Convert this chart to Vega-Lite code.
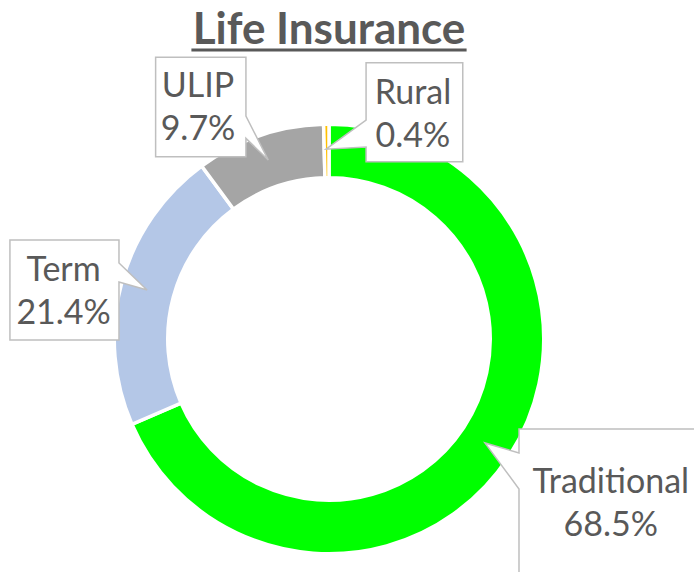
{
  "$schema": "https://vega.github.io/schema/vega-lite/v6.json",
  "width": 694,
  "height": 572,
  "autosize": "none",
  "padding": 0,
  "background": "white",
  "config": {"view": {"stroke": null}},
  "datasets": {
    "shares": [
      {"category": "Traditional", "share": 0.685},
      {"category": "Term", "share": 0.214},
      {"category": "ULIP", "share": 0.097},
      {"category": "Rural", "share": 0.004}
    ],
    "callouts": [
      {"category": "ULIP", "i": 0, "x": -81.4, "y": 132.3},
      {"category": "ULIP", "i": 1, "x": -39.0, "y": 132.3},
      {"category": "ULIP", "i": 2, "x": -39.0, "y": 104.7},
      {"category": "ULIP", "i": 3, "x": -28.5, "y": 84.0},
      {"category": "ULIP", "i": 4, "x": -39.0, "y": 94.2},
      {"category": "ULIP", "i": 5, "x": -39.0, "y": 85.6},
      {"category": "ULIP", "i": 6, "x": -81.4, "y": 85.6},
      {"category": "Rural", "i": 0, "x": 17.4, "y": 129.7},
      {"category": "Rural", "i": 1, "x": 62.8, "y": 129.7},
      {"category": "Rural", "i": 2, "x": 62.8, "y": 83.2},
      {"category": "Rural", "i": 3, "x": 17.4, "y": 83.2},
      {"category": "Rural", "i": 4, "x": 17.4, "y": 90.1},
      {"category": "Rural", "i": 5, "x": -1.4, "y": 89.1},
      {"category": "Rural", "i": 6, "x": 17.4, "y": 102.8},
      {"category": "Term", "i": 0, "x": -149.8, "y": 46.5},
      {"category": "Term", "i": 1, "x": -98.6, "y": 46.5},
      {"category": "Term", "i": 2, "x": -98.6, "y": 35.7},
      {"category": "Term", "i": 3, "x": -85.4, "y": 23.0},
      {"category": "Term", "i": 4, "x": -98.6, "y": 26.8},
      {"category": "Term", "i": 5, "x": -98.6, "y": -0.5},
      {"category": "Term", "i": 6, "x": -149.8, "y": -0.5},
      {"category": "Traditional", "i": 0, "x": 89.2, "y": -42.3},
      {"category": "Traditional", "i": 1, "x": 183.6, "y": -42.3},
      {"category": "Traditional", "i": 2, "x": 183.6, "y": -122.5},
      {"category": "Traditional", "i": 3, "x": 89.2, "y": -122.5},
      {"category": "Traditional", "i": 4, "x": 89.2, "y": -70.4},
      {"category": "Traditional", "i": 5, "x": 73.2, "y": -48.8},
      {"category": "Traditional", "i": 6, "x": 89.2, "y": -53.5}
    ],
    "labels": [
      {"category": "ULIP", "x": -61.5, "y": 108.3},
      {"category": "Rural", "x": 39.4, "y": 104.8},
      {"category": "Term", "x": -124.6, "y": 21.8},
      {"category": "Traditional", "x": 132.3, "y": -77.7}
    ],
    "title": [
      {"text": "Life Insurance", "x": 0, "y": 138.3, "ux1": -64.6, "ux2": 64.6, "uy": 135.7}
    ]
  },
  "layer": [
    {
      "data": {"name": "shares"},
      "mark": {"type": "arc", "outerRadius": 214.75, "innerRadius": 161.25, "stroke": "white", "strokeWidth": 3.5},
      "encoding": {
        "x": {"datum": 0, "type": "quantitative", "scale": {"domain": [-154.46, 171.36], "nice": false, "zero": false}, "axis": null},
        "y": {"datum": 0, "type": "quantitative", "scale": {"domain": [-109.39, 159.15], "nice": false, "zero": false}, "axis": null},
        "theta": {"field": "share", "type": "quantitative", "stack": true},
        "order": {"field": "share", "sort": "descending"},
        "color": {
          "field": "category", "type": "nominal",
          "scale": {"domain": ["Traditional", "Term", "ULIP", "Rural"], "range": ["#00FF00", "#B4C7E7", "#A5A5A5", "#FFC000"]},
          "legend": null
        }
      }
    },
    {
      "data": {"name": "callouts"},
      "mark": {"type": "line", "interpolate": "linear-closed", "fill": "white", "stroke": "#BFBFBF", "strokeWidth": 1.5, "strokeJoin": "miter"},
      "encoding": {
        "x": {"field": "x", "type": "quantitative", "axis": null},
        "y": {"field": "y", "type": "quantitative", "axis": null},
        "detail": {"field": "category"},
        "order": {"field": "i", "type": "quantitative"}
      }
    },
    {
      "data": {"name": "labels"},
      "mark": {"type": "text", "font": "Lato", "fontSize": 34, "color": "#595959", "dy": -21.5, "baseline": "middle", "align": "center"},
      "encoding": {
        "x": {"field": "x", "type": "quantitative", "axis": null},
        "y": {"field": "y", "type": "quantitative", "axis": null},
        "text": {"field": "category"}
      }
    },
    {
      "data": {"name": "labels"},
      "transform": [{"lookup": "category", "from": {"data": {"name": "shares"}, "key": "category", "fields": ["share"]}}],
      "mark": {"type": "text", "font": "Lato", "fontSize": 34, "color": "#595959", "dy": 21.5, "baseline": "middle", "align": "center"},
      "encoding": {
        "x": {"field": "x", "type": "quantitative", "axis": null},
        "y": {"field": "y", "type": "quantitative", "axis": null},
        "text": {"field": "share", "format": ".1%"}
      }
    },
    {
      "data": {"name": "title"},
      "mark": {"type": "text", "font": "Lato", "fontWeight": "bold", "fontSize": 44, "color": "#595959", "baseline": "alphabetic", "align": "center"},
      "encoding": {
        "x": {"field": "x", "type": "quantitative", "axis": null},
        "y": {"field": "y", "type": "quantitative", "axis": null},
        "text": {"field": "text"}
      }
    },
    {
      "data": {"name": "title"},
      "mark": {"type": "rule", "color": "#595959", "strokeWidth": 3},
      "encoding": {
        "x": {"field": "ux1", "type": "quantitative", "axis": null},
        "x2": {"field": "ux2"},
        "y": {"field": "uy", "type": "quantitative", "axis": null}
      }
    }
  ]
}
